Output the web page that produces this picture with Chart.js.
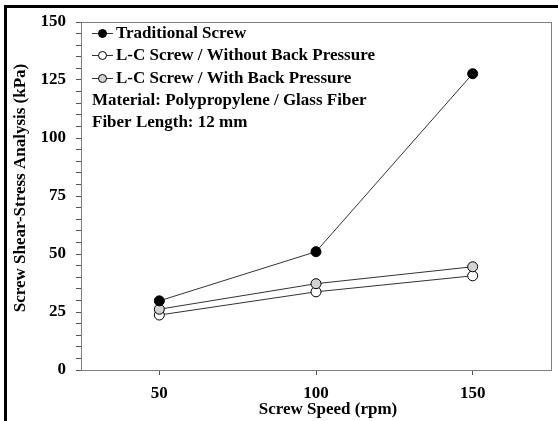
<!DOCTYPE html>
<html lang="en">
<head>
    <meta charset="UTF-8">
    <title>Screw Shear-Stress Analysis</title>
    <script src="https://cdn.jsdelivr.net/npm/chart.js"></script>
    <style>
        html, body { margin: 0; padding: 0; background: #fff; }
        canvas { display: block; }
    </style>
</head>
<body>
    <canvas id="stressChart" width="558" height="421"></canvas>

    <script>
        // data
        const speeds = [50, 100, 150];
        const traditional = [29.8, 51.0, 127.7];
        const withoutBackPressure = [23.7, 33.7, 40.6];
        const withBackPressure = [26.2, 37.2, 44.5];
        const seriesNames = ['Traditional Screw', 'L-C Screw / Without Back Pressure', 'L-C Screw / With Back Pressure'];
        const notes = ['Material: Polypropylene / Glass Fiber', 'Fiber Length: 12 mm'];
        const yLabelStep = 25;

        const FONT = 'bold 17px "Liberation Serif", "Times New Roman", serif';

        function toPoints(values) {
            return values.map((v, i) => ({ x: speeds[i], y: v }));
        }

        const framePlugin = {
            id: 'frame',
            beforeDraw(chart) {
                const ctx = chart.ctx;
                ctx.save();
                ctx.fillStyle = '#fff';
                ctx.fillRect(0, 0, chart.width, chart.height);
                // thick outer border (left and top only visible)
                ctx.fillStyle = '#000';
                ctx.fillRect(4, 5, 3, chart.height - 5);
                ctx.fillRect(4, 5, chart.width - 4, 3);
                ctx.restore();
            },
            beforeDatasetsDraw(chart) {
                const { ctx, chartArea: a } = chart;
                ctx.save();
                ctx.strokeStyle = '#808080';
                ctx.lineWidth = 1;
                ctx.strokeRect(a.left + 0.5, a.top + 0.5, a.right - a.left, a.bottom - a.top);
                ctx.restore();
            },
            afterDraw(chart) {
                const { ctx } = chart;
                ctx.save();
                ctx.font = FONT;
                ctx.fillStyle = '#000';
                ctx.textAlign = 'center';
                ctx.textBaseline = 'middle';
                // axis titles
                ctx.fillText('Screw Speed (rpm)', 328, 410);
                ctx.translate(21, 188);
                ctx.rotate(-Math.PI / 2);
                ctx.fillText('Screw Shear-Stress Analysis (kPa)', 0, 0);
                ctx.restore();

                // legend inside plot
                const rows = [33, 55, 78];
                ctx.save();
                ctx.font = FONT;
                ctx.textBaseline = 'middle';
                ctx.textAlign = 'left';
                chart.data.datasets.forEach((ds, i) => {
                    const y = rows[i];
                    ctx.strokeStyle = ds.borderColor;
                    ctx.lineWidth = 1;
                    ctx.beginPath();
                    ctx.moveTo(92, y + 0.5);
                    ctx.lineTo(113, y + 0.5);
                    ctx.stroke();
                    ctx.beginPath();
                    ctx.arc(102.5, y + 0.5, 4, 0, Math.PI * 2);
                    ctx.fillStyle = ds.pointBackgroundColor;
                    ctx.fill();
                    ctx.strokeStyle = '#000';
                    ctx.stroke();
                    ctx.fillStyle = '#000';
                    ctx.fillText(ds.label, 116, y + 1);
                });
                ctx.fillText(notes[0], 92, 101);
                ctx.fillText(notes[1], 92, 123);
                ctx.restore();
            }
        };

        function series(label, values, fill, order) {
            return {
                label: label,
                data: toPoints(values),
                borderColor: '#333',
                borderWidth: 1,
                pointRadius: 5,
                pointHoverRadius: 5,
                pointBorderWidth: 1,
                pointBorderColor: '#000',
                pointBackgroundColor: fill,
                order: order
            };
        }

        Chart.defaults.font.family = '"Liberation Serif", "Times New Roman", serif';
        Chart.defaults.font.weight = 'bold';
        Chart.defaults.font.size = 17;
        Chart.defaults.color = '#000';

        new Chart(document.getElementById('stressChart').getContext('2d'), {
            type: 'line',
            data: {
                datasets: [
                    series(seriesNames[0], traditional, '#000', 0),
                    series(seriesNames[1], withoutBackPressure, '#fff', 2),
                    series(seriesNames[2], withBackPressure, '#d3d3d3', 1)
                ]
            },
            options: {
                responsive: false,
                animation: false,
                devicePixelRatio: 1,
                layout: { padding: { left: 0, right: 7, top: 22, bottom: 0 } },
                plugins: {
                    legend: { display: false },
                    tooltip: { enabled: false }
                },
                scales: {
                    x: {
                        type: 'linear',
                        min: 25,
                        max: 175,
                        afterBuildTicks: s => { s.ticks = speeds.map(v => ({ value: v })); },
                        afterFit: s => { s.height = 51; },
                        grid: { drawOnChartArea: false, tickLength: 5, color: '#555' },
                        border: { color: '#555', width: 1 },
                        ticks: { padding: 8, autoSkip: false, maxRotation: 0 }
                    },
                    y: {
                        min: 0,
                        max: 150,
                        afterFit: s => { s.width = 81; },
                        grid: { drawOnChartArea: false, tickLength: 5, color: '#555' },
                        border: { color: '#555', width: 1 },
                        ticks: {
                            stepSize: 5,
                            autoSkip: false,
                            padding: 10,
                            callback: v => (v % yLabelStep === 0 ? v : '')
                        }
                    }
                }
            },
            plugins: [framePlugin]
        });
    </script>
</body>
</html>
